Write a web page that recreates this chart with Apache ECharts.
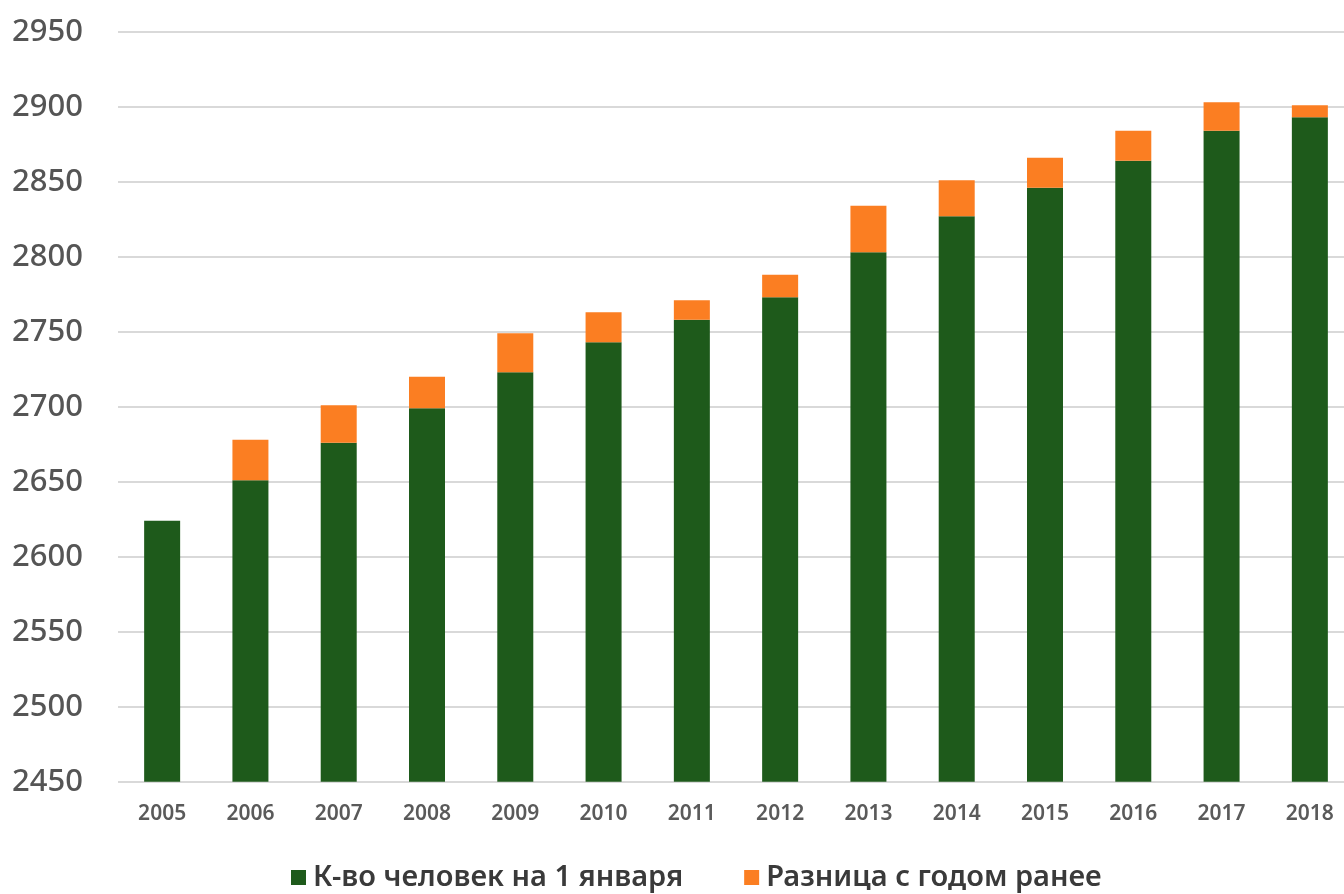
<!DOCTYPE html>
<html>
<head>
<meta charset="utf-8">
<script src="https://cdn.jsdelivr.net/npm/echarts@6/dist/echarts.min.js"></script>
<style>
html,body{margin:0;padding:0;background:#fff;overflow:hidden;}
#chart{width:1354px;height:894px;}
</style>
</head>
<body>
<div id="chart"></div>
<script>
var years = ['2005','2006','2007','2008','2009','2010','2011','2012','2013','2014','2015','2016','2017','2018'];
var population = [2624, 2651, 2676, 2699, 2723, 2743, 2758, 2773, 2803, 2827, 2846, 2864, 2884, 2893];
var difference = [null, 27, 25, 21, 26, 20, 13, 15, 31, 24, 20, 20, 19, 8];
var seriesNames = ['К-во человек на 1 января', 'Разница с годом ранее'];
var yTicks = { min: 2450, max: 2950, interval: 50 };

var chart = echarts.init(document.getElementById('chart'));
chart.setOption({
  animation: false,
  backgroundColor: '#ffffff',
  textStyle: { fontFamily: '"Noto Sans", "Open Sans", sans-serif' },
  grid: { left: 118, right: 0, top: 31.7, bottom: 112.3, containLabel: false },
  legend: {
    data: seriesNames,
    left: 291,
    top: 863,
    padding: 0,
    itemWidth: 15,
    itemHeight: 15,
    itemGap: 61,
    icon: 'rect',
    textStyle: { fontSize: 29, color: '#3a3a3a', fontWeight: 600, padding: [0, 0, 0, 2] }
  },
  xAxis: {
    type: 'category',
    data: years,
    axisLine: { show: false },
    axisTick: { show: false },
    axisLabel: { fontSize: 21, fontWeight: 600, color: '#5a5a5a', margin: 22 }
  },
  yAxis: {
    type: 'value',
    min: yTicks.min,
    max: yTicks.max,
    interval: yTicks.interval,
    axisLine: { show: false },
    axisTick: { show: false },
    splitLine: { lineStyle: { color: '#d9d9d9', width: 2 } },
    axisLabel: {
      fontSize: 31, fontWeight: 500, color: '#555555', margin: 35,
      formatter: function (v) { return String(v); }
    }
  },
  series: [
    {
      name: seriesNames[0],
      type: 'bar',
      stack: 'total',
      barWidth: 36,
      itemStyle: { color: '#1e5a1b' },
      data: population
    },
    {
      name: seriesNames[1],
      type: 'bar',
      stack: 'total',
      barWidth: 36,
      itemStyle: { color: '#fb7e22' },
      data: difference
    }
  ]
});
</script>
</body>
</html>
